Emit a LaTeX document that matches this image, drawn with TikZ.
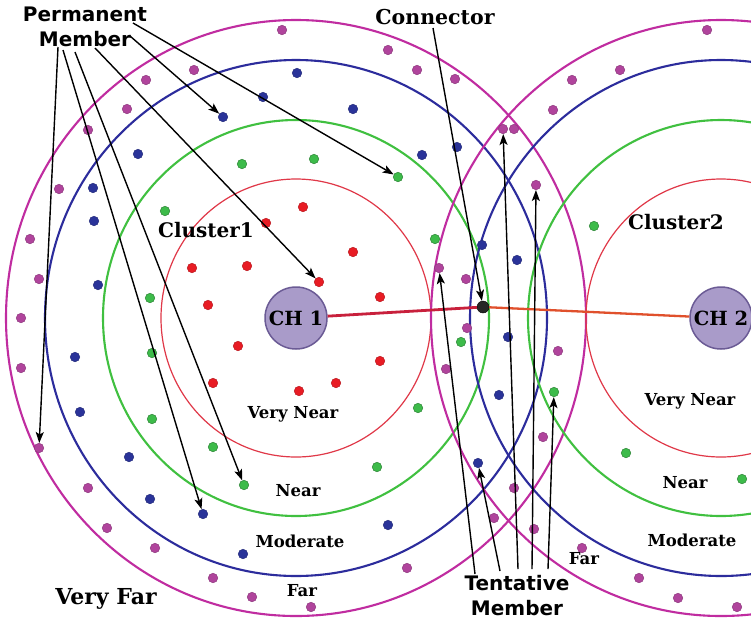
\documentclass[tikz,border=0pt]{standalone}
\usepackage{fontspec}
\setmainfont{DejaVu Serif}
\newfontfamily\calloutfont{DejaVu Sans}
\usetikzlibrary{arrows.meta}

\definecolor{ringM}{HTML}{C02CA0}
\definecolor{ringB}{HTML}{2C2C9C}
\definecolor{ringG}{HTML}{40C040}
\definecolor{ringR}{HTML}{E03848}
\definecolor{dotR}{HTML}{E81C24}
\definecolor{dotG}{HTML}{3DBB4A}
\definecolor{dotB}{HTML}{2A3399}
\definecolor{dotM}{HTML}{B0449C}
\definecolor{chFill}{HTML}{A99BC9}
\definecolor{chEdge}{HTML}{6B5B95}
\definecolor{linkA}{HTML}{C8203C}
\definecolor{linkB}{HTML}{E0502C}

\begin{document}
\begin{tikzpicture}[x=1pt,y=-1pt,
  ringm/.style={draw=ringM,line width=2.1pt},
  ringb/.style={draw=ringB,line width=2.1pt},
  ringg/.style={draw=ringG,line width=2.1pt},
  ringr/.style={draw=ringR,line width=1.2pt},
  dot/.style={circle,inner sep=0pt,minimum size=9.5pt,line width=0.5pt},
  rdot/.style={dot,fill=dotR,draw=dotR!80!black},
  gdot/.style={dot,fill=dotG,draw=dotG!70!black},
  bdot/.style={dot,fill=dotB,draw=dotB!80!black},
  mdot/.style={dot,fill=dotM,draw=dotM!80!black},
  head/.style={circle,fill=chFill,draw=chEdge,line width=1.5pt,minimum size=62pt,inner sep=0pt,
    font=\fontsize{19.5}{21}\selectfont\bfseries},
  zone/.style={font=\fontsize{16.5}{18}\selectfont\bfseries,inner sep=0pt},
  title/.style={font=\fontsize{20}{22}\selectfont\bfseries,inner sep=0pt},
  callout/.style={font=\calloutfont\fontsize{20}{25}\selectfont\bfseries,align=center,inner sep=0pt},
  arr/.style={draw=black,line width=1.4pt,-{Stealth[length=11pt,width=8pt,inset=2.5pt]}}
]
\useasboundingbox (0,0) rectangle (751,622);
\fill[white] (0,0) rectangle (751,622);
\begin{scope}
\clip (0,0) rectangle (751,622);

% cluster centres
\coordinate (c1) at (296,318);
\coordinate (c2) at (721,318);

% distance rings of both clusters
\foreach \c in {c1,c2}{
  \draw[ringm] (\c) ellipse [x radius=290pt, y radius=298pt];
  \draw[ringb] (\c) ellipse [x radius=251pt, y radius=258pt];
  \draw[ringg] (\c) ellipse [x radius=193pt, y radius=198pt];
  \draw[ringr] (\c) ellipse [x radius=135pt, y radius=139pt];
}

% member nodes
\foreach \a/\b [count=\i] in {303/207,266/223,353/252,192/268,247/266,208/305,380/297,238/346,380/361,213/383,299/391,336/383}
  \node[rdot] (r\i) at (\a,\b) {};
\foreach \a/\b [count=\i] in {242/164,314/159,165/211,150/298,152/353,152/419,213/447,377/467,435/239,461/342,418/408,594/226,626/453,742/479}
  \node[gdot] (g\i) at (\a,\b) {};
\foreach \a/\b [count=\i] in {297/73,263/97,353/109,138/154,93/188,94/221,98/285,75/357,80/412,129/457,150/499,243/554,422/155,457/147,482/245,517/260,508/337,499/395,388/525}
  \node[bdot] (b\i) at (\a,\b) {};
\foreach \a/\b [count=\i] in {282/30,194/70,146/80,127/109,88/130,59/189,30/239,39/279,21/318,21/368,88/488,107/528,155/548,213/578,252/597,311/607,388/50,417/70,455/79,707/30,620/70,572/80,553/110,514/129,466/279,467/328,558/351,446/369,543/437,514/488,494/518,534/529,582/548,407/568,639/578,678/598,737/607}
  \node[mdot] (m\i) at (\a,\b) {};

% members pointed at by the callouts
\node[gdot] (pg1) at (398,177) {};
\node[bdot] (pb1) at (223,117) {};
\node[rdot] (pr1) at (319,282) {};
\node[gdot] (pg2) at (244,485) {};
\node[bdot] (pb2) at (203,514) {};
\node[mdot] (pm1) at (39,448) {};
\node[mdot] (tm1) at (439,268) {};
\node[bdot] (tb1) at (478,463) {};
\node[mdot] (tm2) at (503,129) {};
\node[mdot] (tm3) at (536,185) {};
\node[gdot] (tg1) at (554,392) {};

% cluster heads and the connector between them
\node[head] (ch1) at (c1) {CH 1};
\node[head] (ch2) at (c2) {CH 2};
\node[circle,fill=black!85,draw=black,minimum size=12pt,inner sep=0pt] (conn) at (483,307) {};
\draw[linkA,line width=2.8pt] (ch1) -- (conn);
\draw[linkB,line width=2.3pt] (conn) -- (ch2);

% zone labels
\node[title] (cl1) at (206,230) {Cluster1};
\node[title] (cl2) at (676,222) {Cluster2};
\node[zone] (vn1) at (293,414) {Very Near};
\node[zone] (n1) at (298,491) {Near};
\node[zone] (mo1) at (300,541) {Moderate};
\node[zone] (f1) at (302,591) {Far};
\node[font=\fontsize{22}{24}\selectfont\bfseries,inner sep=0pt] (vf1) at (106,599) {Very Far};
\node[zone] (vn2) at (690,401) {Very Near};
\node[zone] (n2) at (685,483) {Near};
\node[zone] (mo2) at (692,540) {Moderate};
\node[zone] (f2) at (584,559) {Far};
\end{scope}

% callouts
\node[callout] (perm) at (85,27) {Permanent\\Member};
\node[title,font=\fontsize{20.5}{22}\selectfont\bfseries] (conlabel) at (435,17) {Connector};
\node[callout] (tent) at (517,596) {Tentative\\Member};

\coordinate (ps1) at (133,23);
\coordinate (ps2) at (130,36);
\coordinate (ps3) at (95,48);
\coordinate (ps4) at (75,52);
\coordinate (ps5) at (63,50);
\coordinate (ps6) at (58,47);
\draw[arr] (ps1) -- (pg1);
\draw[arr] (ps2) -- (pb1);
\draw[arr] (ps3) -- (pr1);
\draw[arr] (ps4) -- (pg2);
\draw[arr] (ps5) -- (pb2);
\draw[arr] (ps6) -- (pm1);

\coordinate (cs) at (433,28);
\draw[arr] (cs) -- (conn);

\coordinate (ts1) at (475,574);
\coordinate (ts2) at (500,571);
\coordinate (ts3) at (518,569);
\coordinate (ts4) at (532,569);
\coordinate (ts5) at (548,569);
\draw[arr] (ts1) -- (tm1);
\draw[arr] (ts2) -- (tb1);
\draw[arr] (ts3) -- (tm2);
\draw[arr] (ts4) -- (tm3);
\draw[arr] (ts5) -- (tg1);
\end{tikzpicture}
\end{document}
